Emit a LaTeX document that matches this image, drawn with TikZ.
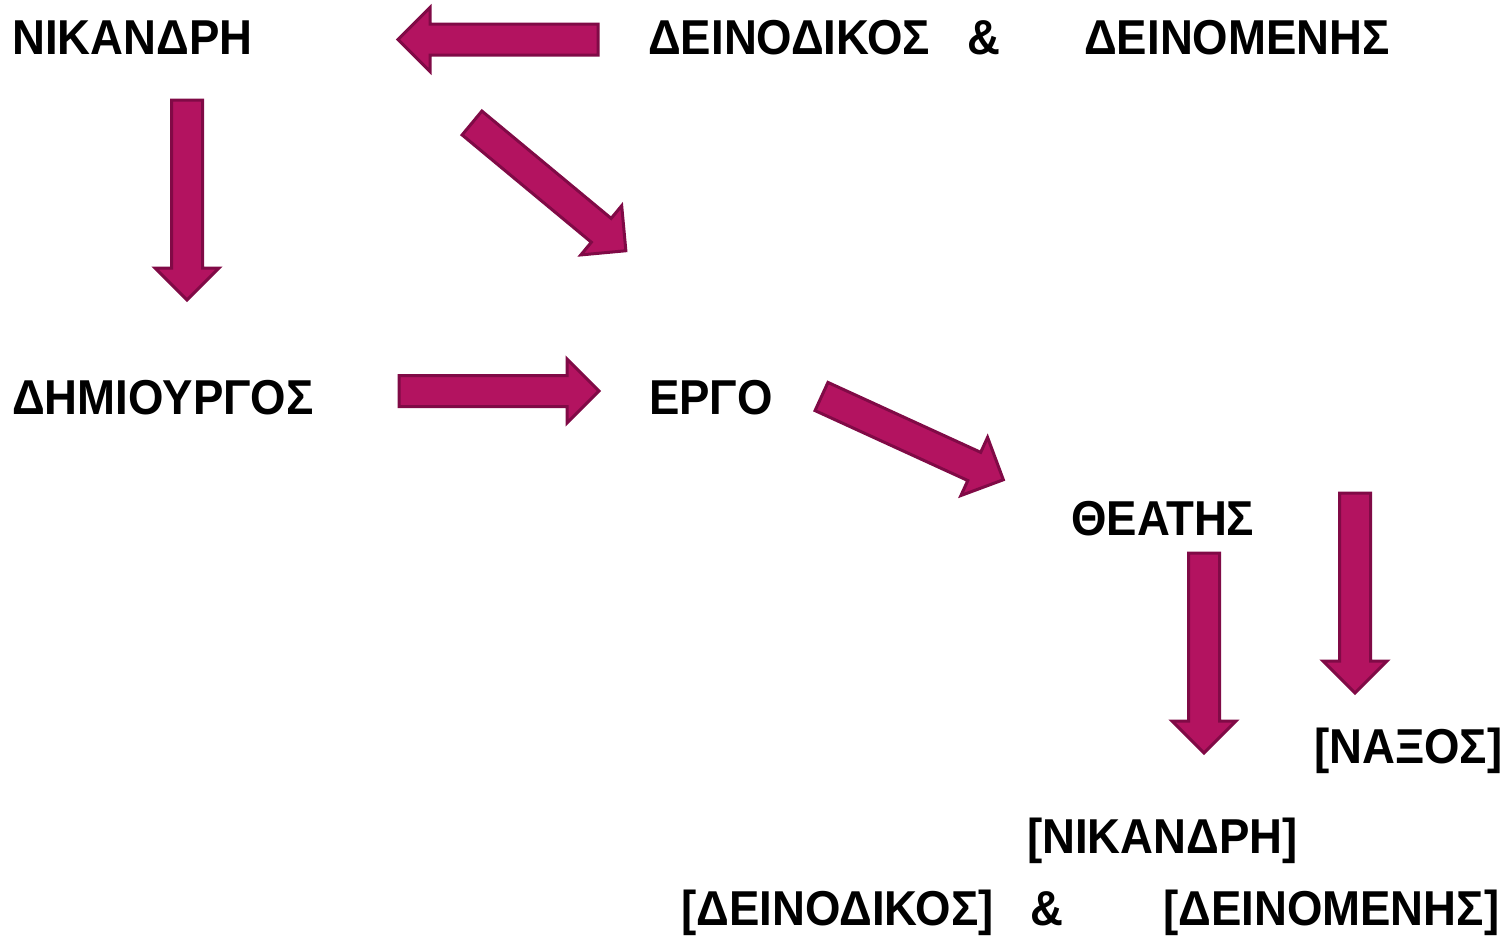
\documentclass[tikz,border=0pt]{standalone}
\usepackage{fontspec}
\setmainfont{Liberation Sans}[FakeStretch=0.93]
\definecolor{arrowfill}{RGB}{179,19,96}
\definecolor{arrowedge}{RGB}{128,10,70}
\tikzset{
	word/.style={anchor=base west,inner sep=0pt,font=\fontsize{49}{58}\selectfont\bfseries},
	blockarrow/.style={fill=arrowfill,draw=arrowedge,line width=3pt,miter limit=10}
}

\begin{document}
\begin{tikzpicture}[x=1pt,y=-1pt]
\useasboundingbox (0,0) rectangle (1507,937);
% words
\node (nik) at (12,54) [word] {ΝΙΚΑΝΔΡΗ};
\node (deinod) at (648,54) [word] {ΔΕΙΝΟΔΙΚΟΣ};
\node (amp) at (967,54) [word] {\&};
\node (deinom) at (1084,54) [word] {ΔΕΙΝΟΜΕΝΗΣ};
\node (dimiourgos) at (12,414) [word] {ΔΗΜΙΟΥΡΓΟΣ};
\node (ergo) at (649,414) [word] {ΕΡΓΟ};
\node (theatis) at (1071,535) [word] {ΘΕΑΤΗΣ};
\node (naxos) at (1314,763) [word] {[ΝΑΞΟΣ]};
\node (niktheat) at (1027,853) [word] {[ΝΙΚΑΝΔΡΗ]};
\node (deinodtheat) at (681,925) [word] {[ΔΕΙΝΟΔΙΚΟΣ]};
\node (amptheat) at (1030,925) [word] {\&};
\node (deinomtheat) at (1163,925) [word] {[ΔΕΙΝΟΜΕΝΗΣ]};

% arrows: tail x, tail y, direction
	\foreach \x/\y/\a in {598/39.5/180, 187/100/-90, 472/123/-39.7, 399/391/0,
		821.5/396.5/-24.6, 1204/553/-90, 1355/493/-90} {
		\begin{scope}[shift={(\x,\y)},rotate=\a]
		\draw[blockarrow] (0,-15.5) -- (168,-15.5) -- (168,-32) -- (200,0)
			-- (168,32) -- (168,15.5) -- (0,15.5) -- cycle;
		\end{scope}
		}
\end{tikzpicture}
\end{document}
